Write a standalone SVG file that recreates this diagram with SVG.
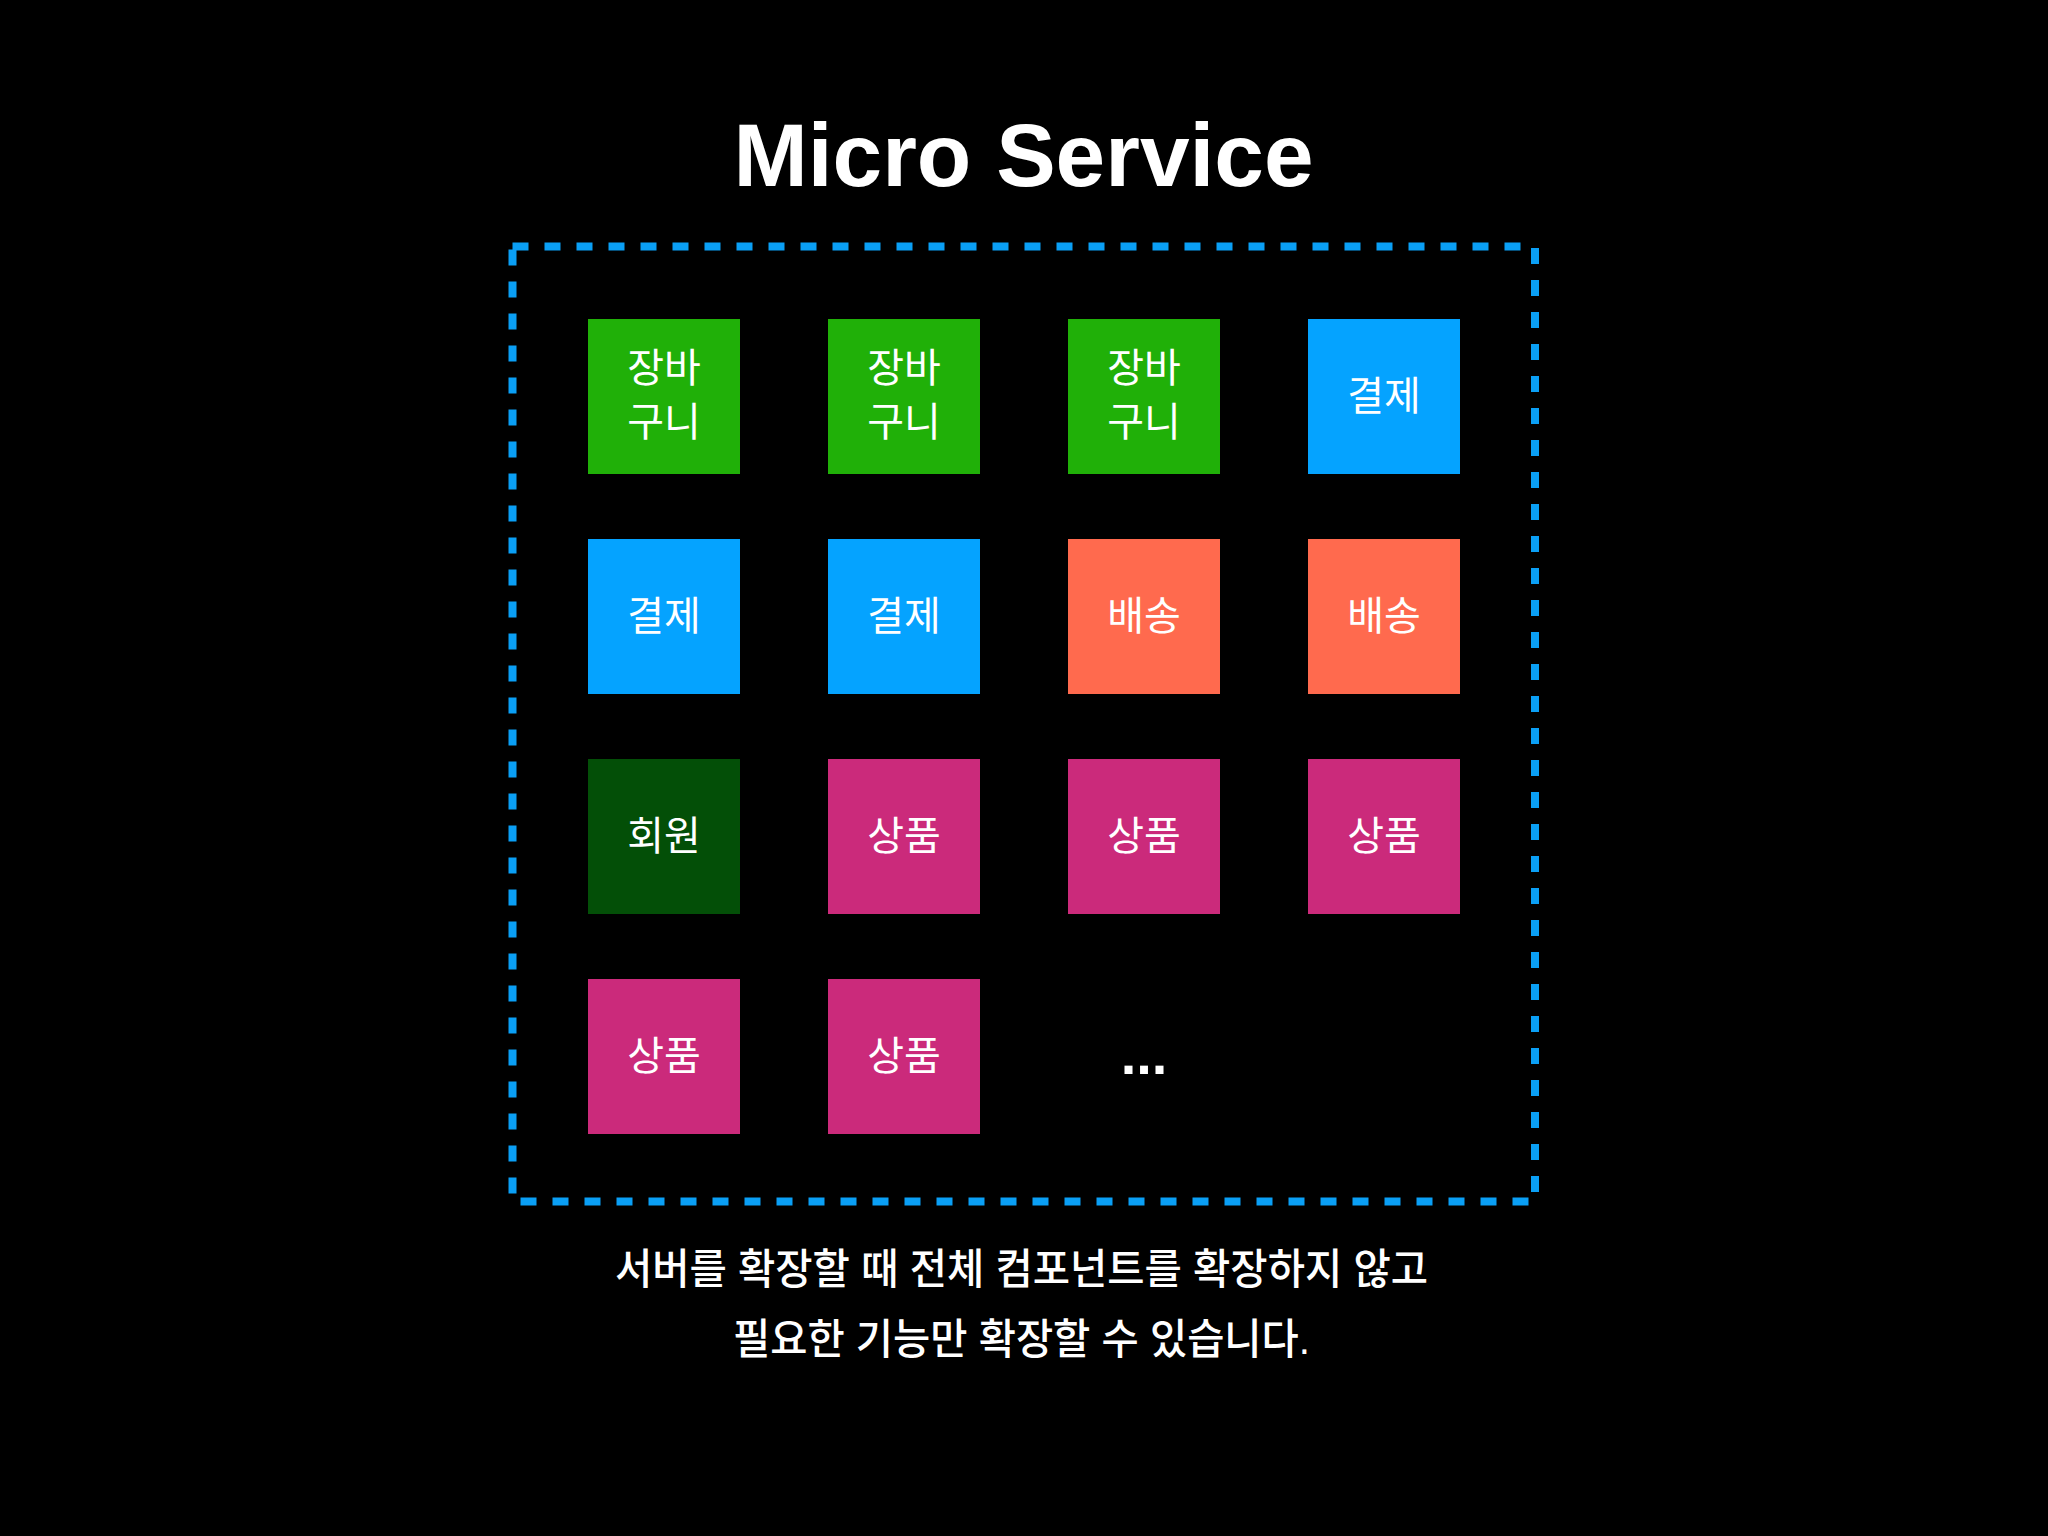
<svg xmlns="http://www.w3.org/2000/svg" width="2048" height="1536" viewBox="0 0 2048 1536">
  <style>
    .title { font-family: "Liberation Sans", Arial, sans-serif; font-weight: 700; font-size: 89px; fill: #ffffff; text-anchor: middle; }
    .box { stroke: none; }
    .green { fill: #20B008; }
    .blue { fill: #05A3FF; }
    .salmon { fill: #FF6A4E; }
    .dkgreen { fill: #034F07; }
    .magenta { fill: #CB2A7B; }
    .lbl { font-family: "Liberation Sans", "Noto Sans CJK KR", sans-serif; font-size: 40px; fill: #ffffff; text-anchor: middle; }
    .cap { font-family: "Liberation Sans", "Noto Sans CJK KR", sans-serif; font-size: 42px; font-weight: 500; fill: #ffffff; text-anchor: middle; }
    .dots { font-family: "Liberation Sans", Arial, sans-serif; font-weight: 700; font-size: 56px; fill: #ffffff; text-anchor: middle; }
  </style>
  <rect width="2048" height="1536" fill="#000000"/>
  <text class="title" x="1023.5" y="186" textLength="580" lengthAdjust="spacingAndGlyphs">Micro Service</text>

  <g id="connectors">
    <rect x="512.5" y="246.5" width="1022.5" height="955" fill="none" stroke="#0A9FF5" stroke-width="8" stroke-dasharray="16 16"/>
  </g>

  <g id="n-cart-1"><rect class="box green" x="588" y="319" width="152" height="155"/><text class="lbl" x="664" y="382">장바</text><text class="lbl" x="664" y="436">구니</text></g>
  <g id="n-cart-2"><rect class="box green" x="828" y="319" width="152" height="155"/><text class="lbl" x="904" y="382">장바</text><text class="lbl" x="904" y="436">구니</text></g>
  <g id="n-cart-3"><rect class="box green" x="1068" y="319" width="152" height="155"/><text class="lbl" x="1144" y="382">장바</text><text class="lbl" x="1144" y="436">구니</text></g>
  <g id="n-pay-1"><rect class="box blue" x="1308" y="319" width="152" height="155"/><text class="lbl" x="1384" y="410">결제</text></g>

  <g id="n-pay-2"><rect class="box blue" x="588" y="539" width="152" height="155"/><text class="lbl" x="664" y="630">결제</text></g>
  <g id="n-pay-3"><rect class="box blue" x="828" y="539" width="152" height="155"/><text class="lbl" x="904" y="630">결제</text></g>
  <g id="n-ship-1"><rect class="box salmon" x="1068" y="539" width="152" height="155"/><text class="lbl" x="1144" y="630">배송</text></g>
  <g id="n-ship-2"><rect class="box salmon" x="1308" y="539" width="152" height="155"/><text class="lbl" x="1384" y="630">배송</text></g>

  <g id="n-member"><rect class="box dkgreen" x="588" y="759" width="152" height="155"/><text class="lbl" x="664" y="850">회원</text></g>
  <g id="n-prod-1"><rect class="box magenta" x="828" y="759" width="152" height="155"/><text class="lbl" x="904" y="850">상품</text></g>
  <g id="n-prod-2"><rect class="box magenta" x="1068" y="759" width="152" height="155"/><text class="lbl" x="1144" y="850">상품</text></g>
  <g id="n-prod-3"><rect class="box magenta" x="1308" y="759" width="152" height="155"/><text class="lbl" x="1384" y="850">상품</text></g>

  <g id="n-prod-4"><rect class="box magenta" x="588" y="979" width="152" height="155"/><text class="lbl" x="664" y="1070">상품</text></g>
  <g id="n-prod-5"><rect class="box magenta" x="828" y="979" width="152" height="155"/><text class="lbl" x="904" y="1070">상품</text></g>
  <g id="n-more"><text class="dots" x="1144" y="1074">...</text></g>

  <text class="cap" x="1021.5" y="1284" textLength="813" lengthAdjust="spacingAndGlyphs">서버를 확장할 때 전체 컴포넌트를 확장하지 않고</text>
  <text class="cap" x="1021.5" y="1354" textLength="577" lengthAdjust="spacingAndGlyphs">필요한 기능만 확장할 수 있습니다.</text>
</svg>
